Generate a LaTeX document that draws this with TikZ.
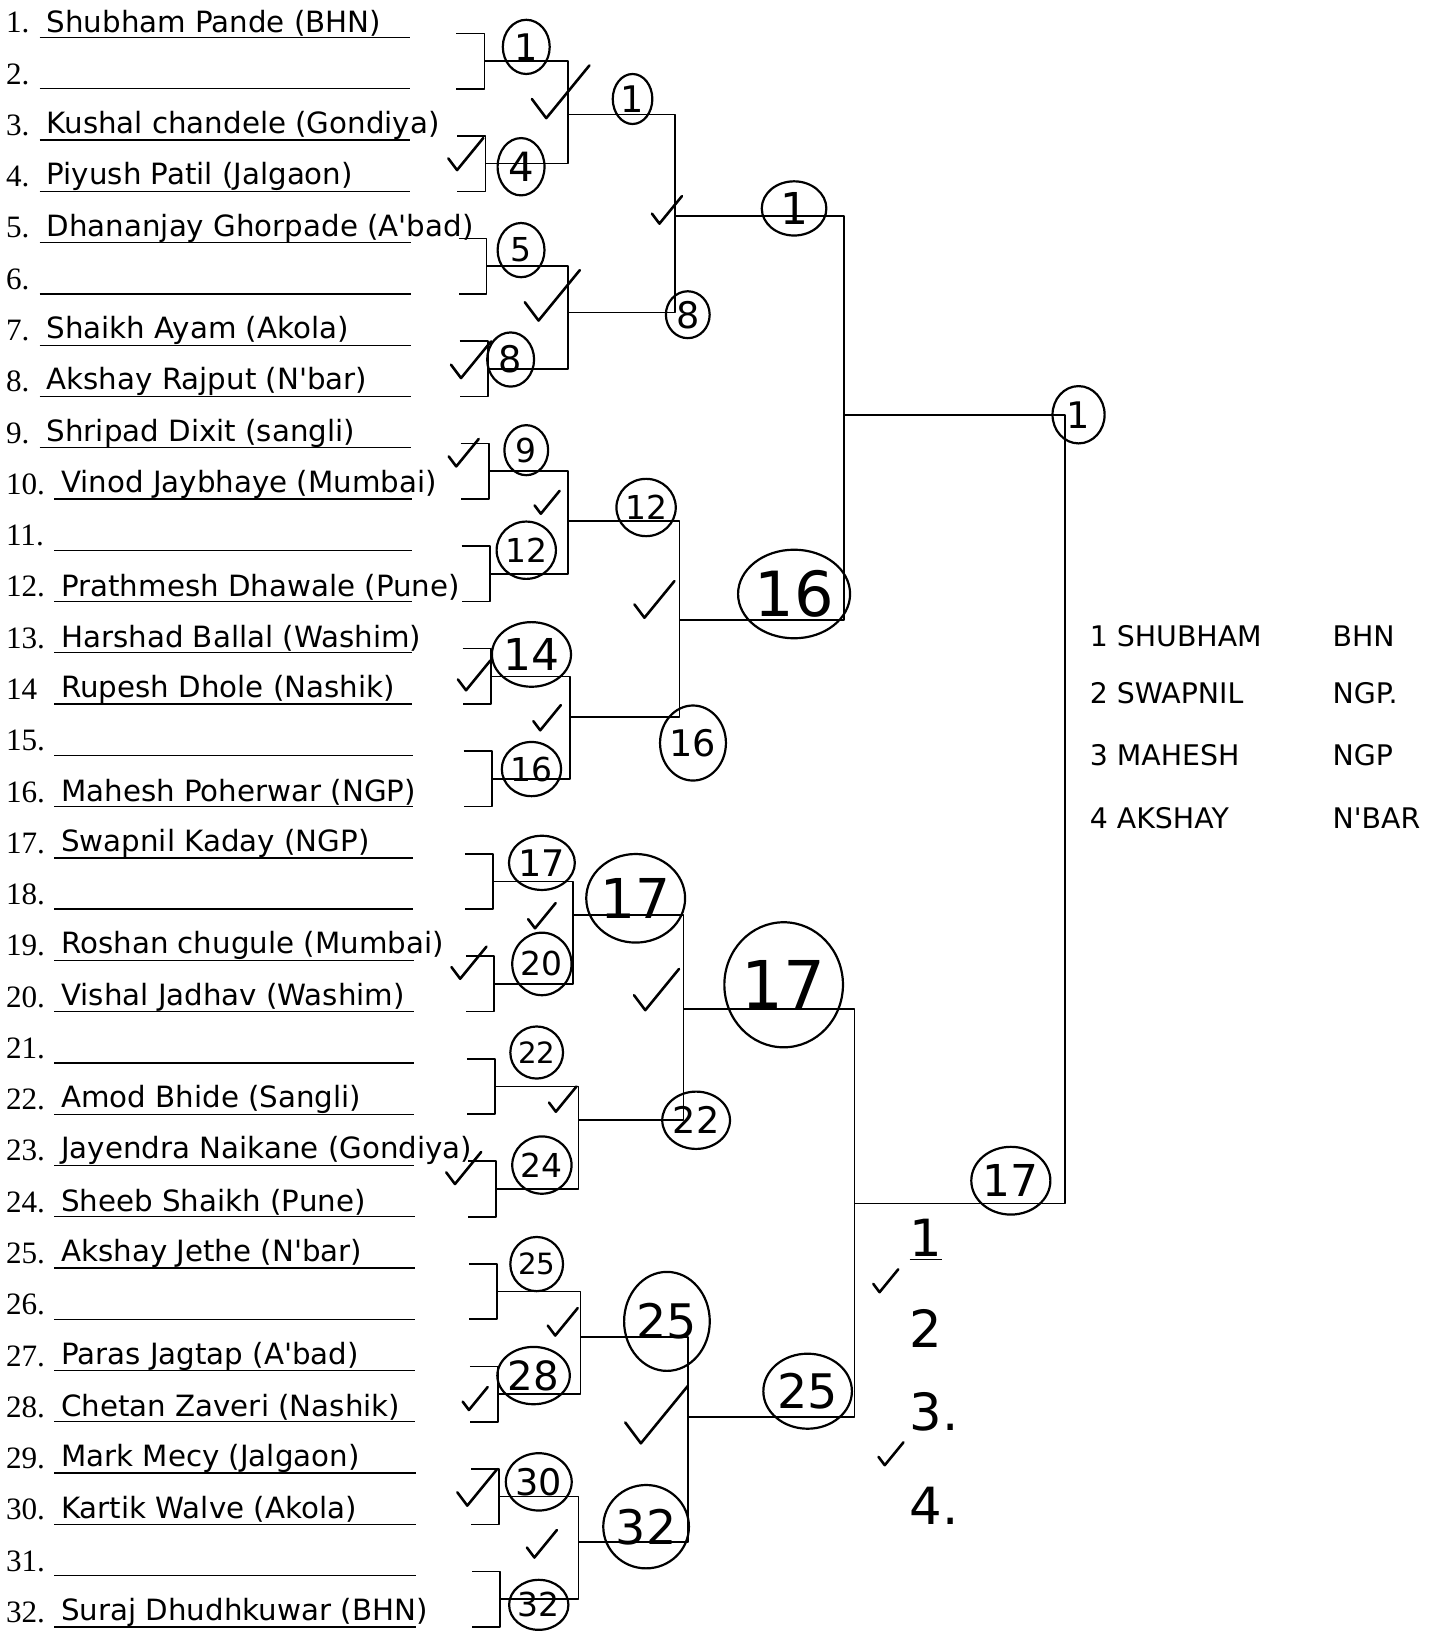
\documentclass[tikz,border=0pt]{standalone}
\usepackage{fontspec}
\setmainfont{Liberation Serif}
\newfontfamily\hand{DejaVu Sans}
\usetikzlibrary{shapes.geometric, calc}
\tikzset{
  every picture/.style={line width=0.9pt, line join=round},
  seedno/.style={font=\fontsize{17}{17}\selectfont, anchor=west, inner sep=0pt},
  entrant/.style={font=\hand\fontsize{16}{16}\selectfont, anchor=west, inner sep=0pt},
  ring/.style n args={3}{draw, ellipse, line width=1.2pt, inner sep=0pt,
    minimum width=#1*0.02cm, minimum height=#2*0.02cm, font=\hand\fontsize{#3}{#3}\selectfont},
  okmark/.pic={\draw[line width=1.4pt, line cap=round] (-12,0) -- (-6,8) -- (12,-14);},
  rankno/.style={font=\hand\fontsize{28}{28}\selectfont, inner sep=0pt, anchor=west},
  podium/.style={font=\hand\fontsize{15.5}{15.5}\selectfont, anchor=west, inner sep=0pt},
}
\begin{document}
\begin{tikzpicture}[x=0.02cm, y=-0.02cm]
  \useasboundingbox (0,0) rectangle (1372,1568);
  % entry list, one underlined line per seed
  \foreach \i/\no/\who in {1/1./Shubham Pande (BHN), 2/2./, 3/3./Kushal chandele (Gondiya),
      4/4./Piyush Patil (Jalgaon), 5/5./Dhananjay Ghorpade (A'bad), 6/6./, 7/7./Shaikh Ayam (Akola),
      8/8./Akshay Rajput (N'bar), 9/9./Shripad Dixit (sangli), 10/10./Vinod Jaybhaye (Mumbai),
      11/11./, 12/12./Prathmesh Dhawale (Pune), 13/13./Harshad Ballal (Washim),
      14/14/Rupesh Dhole (Nashik), 15/15./, 16/16./Mahesh Poherwar (NGP), 17/17./Swapnil Kaday (NGP),
      18/18./, 19/19./Roshan chugule (Mumbai), 20/20./Vishal Jadhav (Washim), 21/21./,
      22/22./Amod Bhide (Sangli), 23/23./Jayendra Naikane (Gondiya), 24/24./Sheeb Shaikh (Pune),
      25/25./Akshay Jethe (N'bar), 26/26./, 27/27./Paras Jagtap (A'bad), 28/28./Chetan Zaveri (Nashik),
      29/29./Mark Mecy (Jalgaon), 30/30./Kartik Walve (Akola), 31/31./, 32/32./Suraj Dhudhkuwar (BHN)}{
    \pgfmathsetmacro\yy{22+(\i-1)*49.2}
    \pgfmathsetmacro\xs{\i<10 ? 38 : 52}
    \node[seedno] (no\i) at (5,\yy) {\no};
    \draw[line width=0.7pt] (\xs,\yy+14) -- (393+\i*0.2,\yy+14);
    \node[entrant] (who\i) at (\xs+6,\yy) {\who};
  }
  % first round brackets
  \foreach \k in {1,...,16}{
    \pgfmathsetmacro\yt{22+(2*\k-2)*49.2+10}
    \pgfmathsetmacro\yb{22+(2*\k-1)*49.2+14}
    \pgfmathsetmacro\xv{464+\k}
    \coordinate (top\k) at (\xv-27,\yt);
    \coordinate (bot\k) at (\xv-27,\yb);
    \coordinate (m\k) at (\xv,{(\yt+\yb)/2});
    \draw (top\k) -| (m\k) |- (bot\k);
  }
  % second round
  \foreach \j/\x/\y in {1/545/110, 2/545/300, 3/545/500, 4/547/688, 5/550/878, 6/555/1075, 7/557/1283, 8/555/1480}{
    \pgfmathtruncatemacro\a{2*\j-1}
    \pgfmathtruncatemacro\b{2*\j}
    \coordinate (q\j) at (\x,\y);
    \draw (m\a) -| (q\j) |- (m\b);
  }
  % quarter finals
  \foreach \j/\x/\y in {1/648/207, 2/652/595, 3/656/968, 4/660/1360}{
    \pgfmathtruncatemacro\a{2*\j-1}
    \pgfmathtruncatemacro\b{2*\j}
    \coordinate (t\j) at (\x,\y);
    \draw (q\a) -| (t\j) |- (q\b);
  }
  % semi finals and final
  \coordinate (h1) at (810,398);
  \coordinate (h2) at (820,1155);
  \coordinate (fin) at (1022,398);
  \draw (t1) -| (h1) |- (t2);
  \draw (t3) -| (h2) |- (t4);
  \draw (h1) -| (fin) |- (h2);
  % circled winners
  \foreach \lbl/\x/\y/\w/\h/\fs [count=\n] in {1/505/45/45/52/20, 4/500/160/45/55/22, 5/500/240/45/52/18,
      8/490/345/45/52/20, 9/505/432/42/48/18, 12/505/528/45/55/18, 14/510/628/48/62/24, 16/510/738/45/52/18,
      17/520/828/45/52/20, 20/520/925/45/60/18, 22/515/1010/45/50/16, 24/520/1118/45/55/18,
      25/515/1213/42/52/16, 28/512/1320/48/55/22, 30/517/1422/50/55/20, 32/517/1540/45/48/18,
      1/607/95/38/48/20, 8/660/302/42/45/20, 12/620/487/45/55/18, 16/665/713/62/72/20,
      17/610/862/80/85/30, 22/668/1075/65/55/20, 25/640/1268/80/95/26, 32/620/1465/75/80/26,
      1/762/200/62/52/24, 16/762/570/100/85/34, 17/752/945/92/120/36, 25/775/1335/85/72/26,
      1/1035/398/50/55/20, 17/970/1133/52/65/24}
    \node[ring={\w}{\h}{\fs}] (win\n) at (\x,\y) {\lbl};
  % ticks
  \foreach \x/\y/\s in {538/95/2.3, 447/152/1.4, 640/205/1.2, 530/290/2.2, 452/350/1.6, 445/438/1.2,
      525/485/1.0, 628/580/1.6, 455/652/1.3, 525/692/1.1, 520/882/1.1, 450/928/1.4, 630/955/1.8,
      540/1058/1.1, 445/1125/1.4, 540/1272/1.2, 456/1345/1.0, 630/1365/2.5, 458/1432/1.6,
      520/1485/1.2, 850/1232/1.0, 855/1398/1.0}
    \pic[scale=\s] at (\x,\y) {okmark};
  % places
  \node[rankno] (rk1) at (872,1190) {\underline{1}};
  \node[rankno] (rk2) at (872,1275) {2};
  \node[rankno] (rk3) at (872,1355) {3.};
  \node[rankno] (rk4) at (872,1445) {4.};
  \foreach \k/\y/\nm/\dist in {1/610/SHUBHAM/BHN, 2/665/SWAPNIL/NGP., 3/725/MAHESH/NGP, 4/785/AKSHAY/N'BAR}{
    \node[podium] (pl\k) at (1045,\y) {\k\ \nm};
    \node[podium] (pd\k) at (1278,\y) {\dist};
  }
\end{tikzpicture}
\end{document}
